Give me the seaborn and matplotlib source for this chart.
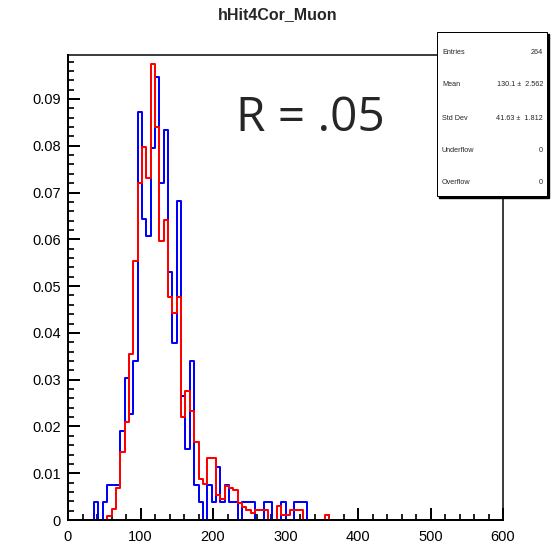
import numpy as np
import pandas as pd
import matplotlib
matplotlib.use("Agg")
import matplotlib.pyplot as plt
import seaborn as sns
from matplotlib.patches import Rectangle

# ---- data (normalised bin contents, bin width 6, range 0-600) ----
BIN_W = 6
N_BLUE = 264
blue_counts = {36: 1, 48: 1, 54: 2, 60: 2, 66: 2, 72: 5, 78: 8, 84: 6, 90: 9,
               96: 23, 102: 17, 108: 16, 114: 21, 120: 25, 126: 19, 132: 22,
               138: 14, 144: 10, 150: 18, 156: 7, 162: 4, 168: 9, 174: 2,
               180: 1, 192: 2, 198: 1, 204: 3, 210: 1, 216: 2, 222: 1, 228: 1,
               240: 1, 246: 1, 252: 1, 270: 1, 276: 1, 294: 1, 312: 1, 318: 1,
               324: 1}
red_values = {54: 0.0009, 60: 0.0023, 66: 0.0068, 72: 0.0145, 78: 0.0210,
              84: 0.0354, 90: 0.0554, 96: 0.0720, 102: 0.0798, 108: 0.0732,
              114: 0.0975, 120: 0.0841, 126: 0.0597, 132: 0.0641, 138: 0.0476,
              144: 0.0443, 150: 0.0476, 156: 0.0221, 162: 0.0276, 168: 0.0232,
              174: 0.0166, 180: 0.0088, 186: 0.0076, 192: 0.0132, 198: 0.0132,
              204: 0.0053, 210: 0.0045, 216: 0.0072, 222: 0.0068, 228: 0.0064,
              234: 0.0036, 240: 0.0028, 246: 0.0021, 252: 0.0014, 258: 0.0021,
              264: 0.0021, 270: 0.0021, 288: 0.0030, 294: 0.0011, 300: 0.0011,
              306: 0.0021, 312: 0.0021, 318: 0.0021, 354: 0.0011}
title = "hHit4Cor_Muon"
annotation = "R = .05"
stats_rows = [("Entries", "264"), ("Mean", "130.1 \u00b1  2.562"),
              ("Std Dev", "41.63 \u00b1  1.812"), ("Underflow", "0"),
              ("Overflow", "0")]
x_ticks = [0, 100, 200, 300, 400, 500, 600]
y_ticks = [0, 0.01, 0.02, 0.03, 0.04, 0.05, 0.06, 0.07, 0.08, 0.09]
y_tick_labels = ["0", "0.01", "0.02", "0.03", "0.04", "0.05", "0.06", "0.07", "0.08", "0.09"]

lefts = np.arange(0, 600, BIN_W)
blue = pd.DataFrame({"x": lefts + BIN_W / 2,
                     "w": [blue_counts.get(int(b), 0) / N_BLUE for b in lefts]})
red = pd.DataFrame({"x": lefts + BIN_W / 2,
                    "w": [red_values.get(int(b), 0.0) for b in lefts]})

sns.set_style("ticks")
plt.rcParams["font.family"] = ["Liberation Sans", "DejaVu Sans"]

W, H = 557, 544
fig = plt.figure(figsize=(W / 100, H / 100), dpi=100)
fig.patch.set_facecolor("white")
ax = fig.add_axes([68 / W, (H - 520) / H, (503 - 68) / W, (520 - 55) / H])

px = 72 / 100  # points per pixel
sns.histplot(data=blue, x="x", weights="w", binwidth=BIN_W, binrange=(0, 600),
             element="step", fill=False, color="#0000ff", linewidth=2 * px, ax=ax)
sns.histplot(data=red, x="x", weights="w", binwidth=BIN_W, binrange=(0, 600),
             element="step", fill=False, color="#ff0000", linewidth=2 * px, ax=ax)

ax.set_xlim(0, 600)
ax.set_ylim(0, 0.0994)
ax.set_xlabel("")
ax.set_ylabel("")
ax.set_xticks(x_ticks)
ax.set_xticklabels([str(t) for t in x_ticks])
ax.set_yticks(y_ticks)
ax.set_yticklabels(y_tick_labels)
ax.set_xticks(np.arange(0, 601, 20), minor=True)
ax.set_yticks(np.arange(0, 0.0994, 0.002), minor=True)
ax.tick_params(which="major", direction="in", length=12 * px, width=2 * px,
               labelsize=10.5, colors="black")
ax.tick_params(axis="x", which="major", pad=7)
ax.tick_params(axis="y", which="major", pad=5)
ax.tick_params(which="minor", direction="in", length=6 * px, width=2 * px)
ax.tick_params(top=False, right=False, which="both")
for s in ["left", "bottom"]:
    ax.spines[s].set_linewidth(2 * px)
for s in ["top", "right"]:
    ax.spines[s].set_linewidth(1.5 * px)
for s in ax.spines.values():
    s.set_color("black")
ax.grid(False)
ax.set_facecolor("white")

fig.text(278 / W, 1 - 15 / H, title, ha="center", va="center", fontsize=11.5,
         fontweight="bold")
fig.text(236 / W, 1 - 131 / H, annotation, ha="left", va="baseline",
         fontsize=34.5, family=["Open Sans", "DejaVu Sans"])

# stats box
bx0, bx1, by0, by1 = 437, 547, 32, 196
fig.patches.append(Rectangle((bx0 / W + 2 / W, 1 - (by1 + 2) / H), (bx1 - bx0) / W,
                             (by1 - by0) / H, transform=fig.transFigure,
                             facecolor="black", edgecolor="black", zorder=10))
fig.patches.append(Rectangle((bx0 / W, 1 - by1 / H), (bx1 - bx0) / W,
                             (by1 - by0) / H, transform=fig.transFigure,
                             facecolor="white", edgecolor="black", linewidth=1 * px,
                             zorder=11))
row_y = [52, 85, 118, 150, 183]
for (lab, val), yy in zip(stats_rows, row_y):
    fig.text(442 / W, 1 - yy / H, lab, ha="left", va="center", fontsize=5.2, zorder=12)
    fig.text(543 / W, 1 - yy / H, val, ha="right", va="center", fontsize=5.2, zorder=12)

fig.savefig("out.png", dpi=100, facecolor="white")
